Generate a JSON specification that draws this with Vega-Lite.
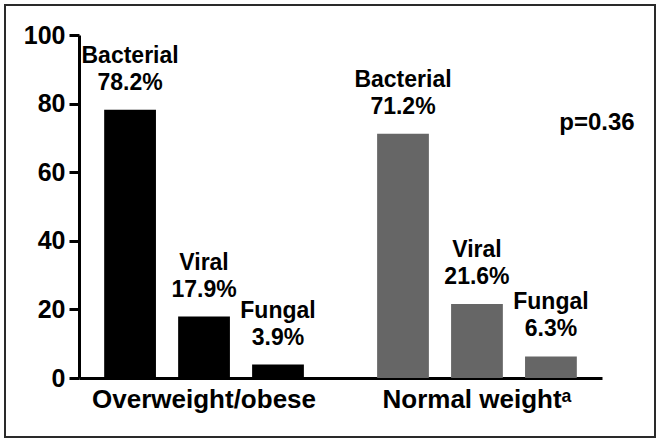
{
  "$schema": "https://vega.github.io/schema/vega-lite/v6.json",
  "width": 650,
  "height": 432,
  "autosize": "none",
  "padding": {"left": 5, "top": 5, "right": 6, "bottom": 5},
  "background": "white",
  "config": {
    "view": {"stroke": "#2a2a2a", "strokeWidth": 2},
    "font": "Liberation Sans"
  },
  "data": {
    "values": [
      {"group": "Overweight/obese", "type": "Bacterial", "value": 78.2},
      {"group": "Overweight/obese", "type": "Viral", "value": 17.9},
      {"group": "Overweight/obese", "type": "Fungal", "value": 3.9},
      {"group": "Normal weight", "type": "Bacterial", "value": 71.2},
      {"group": "Normal weight", "type": "Viral", "value": 21.6},
      {"group": "Normal weight", "type": "Fungal", "value": 6.3}
    ]
  },
  "encoding": {
    "x": {
      "field": "group",
      "type": "nominal",
      "sort": ["Overweight/obese", "Normal weight"],
      "scale": {"range": [74, 597], "paddingInner": 0.187, "paddingOuter": 0.0516},
      "axis": {
        "orient": "bottom",
        "offset": -59,
        "domainWidth": 3,
        "domainColor": "black",
        "ticks": false,
        "labelFontSize": 26,
        "labelFontWeight": "bold",
        "labelColor": "black",
        "labelPadding": 8,
        "labelAngle": 0,
        "labelLimit": 500,
        "labelExpr": "datum.label == 'Normal weight' ? 'Normal weightᵃ' : datum.label",
        "title": null
      }
    },
    "y": {
      "field": "value",
      "type": "quantitative",
      "scale": {"domain": [0, 100], "range": [373, 30], "nice": false},
      "axis": {
        "offset": -74,
        "values": [0, 20, 40, 60, 80, 100],
        "domainColor": "black",
        "domainWidth": 3,
        "tickColor": "black",
        "tickWidth": 3,
        "tickSize": 10,
        "labelFontSize": 25,
        "labelFontWeight": "bold",
        "labelColor": "black",
        "labelPadding": 4,
        "labelFlush": false,
        "grid": false,
        "title": null
      }
    }
  },
  "layer": [
    {
      "mark": {"type": "bar"},
      "encoding": {
        "xOffset": {"field": "type", "sort": ["Bacterial", "Viral", "Fungal"], "scale": {"paddingInner": 0.3, "paddingOuter": 0.15}},
        "color": {
          "field": "group",
          "type": "nominal",
          "scale": {"domain": ["Overweight/obese", "Normal weight"], "range": ["#000000", "#666666"]},
          "legend": null
        }
      }
    },
    {
      "transform": [
        {"calculate": "datum.type + '\\n' + format(datum.value, '.1f') + '%'", "as": "label"}
      ],
      "mark": {
        "type": "text",
        "lineBreak": "\n",
        "lineHeight": 27,
        "baseline": "bottom",
        "align": "center",
        "dy": -42,
        "fontSize": 23,
        "fontWeight": "bold",
        "color": "black"
      },
      "encoding": {
        "xOffset": {"field": "type", "sort": ["Bacterial", "Viral", "Fungal"]},
        "text": {"field": "label"}
      }
    },
    {
      "data": {"values": [{"group": "Normal weight", "value": 72.3, "note": "p=0.36"}]},
      "mark": {
        "type": "text",
        "align": "center",
        "baseline": "alphabetic",
        "dx": 120,
        "fontSize": 24,
        "fontWeight": "bold",
        "color": "black"
      },
      "encoding": {
        "text": {"field": "note"}
      }
    }
  ]
}
